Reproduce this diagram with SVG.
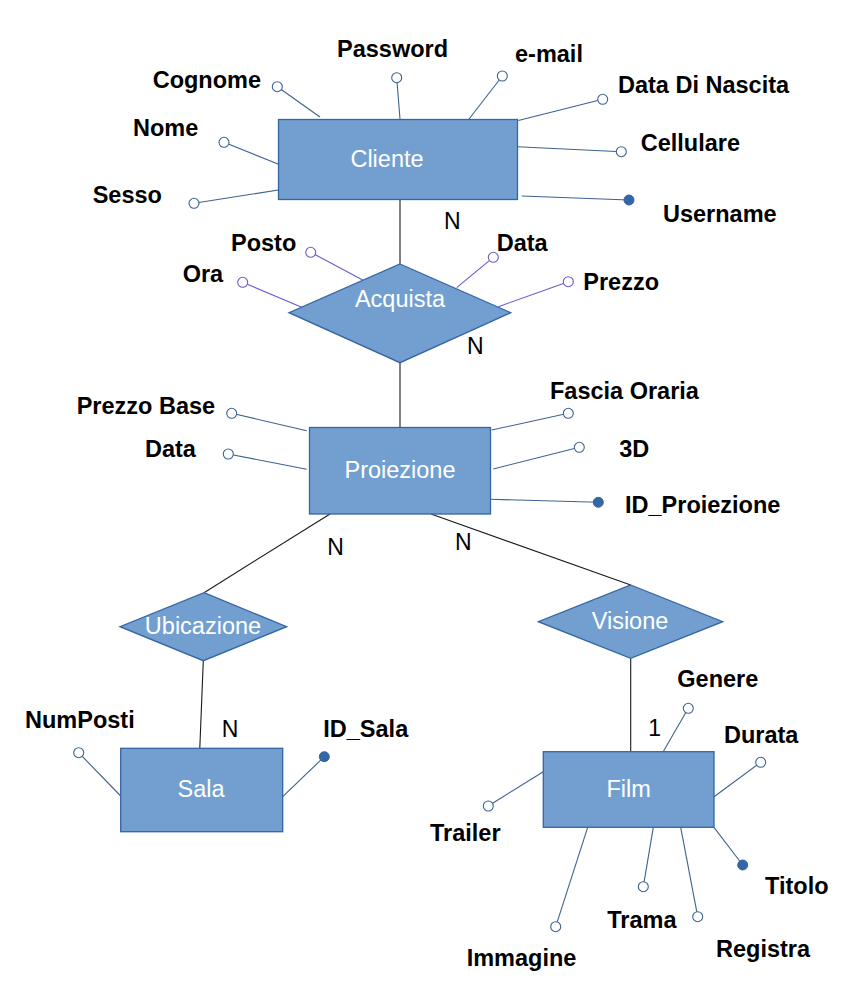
<svg xmlns="http://www.w3.org/2000/svg" width="864" height="1008" viewBox="0 0 864 1008">
<style>
.ent{fill:#729fcf;stroke:#3465a4;stroke-width:1.3}
.nt{font-family:"Liberation Sans",Arial,sans-serif;font-size:23.5px;fill:#ffffff;text-anchor:middle}
.lbl{font-family:"Liberation Sans",Arial,sans-serif;font-size:23.5px;font-weight:bold;fill:#000000}
.card{font-family:"Liberation Sans",Arial,sans-serif;font-size:23px;fill:#000000}
.al{stroke:#3d6290;stroke-width:1.1;fill:none}
.alp{stroke:#6a5acd;stroke-width:1.1;fill:none}
.ao{fill:#ffffff;stroke:#3d6290;stroke-width:1.1}
.aop{fill:#ffffff;stroke:#6a5acd;stroke-width:1.1}
.key{fill:#3465a4;stroke:#3465a4;stroke-width:1}
.conn{stroke:#1a1a1a;stroke-width:1.1;fill:none}
</style>
<rect width="864" height="1008" fill="#ffffff"/>

<g id="connectors">
<line class="conn" x1="400" y1="199.5" x2="400" y2="264"/>
<line class="conn" x1="400" y1="362.7" x2="400" y2="430"/>
<line class="conn" x1="330" y1="514" x2="204" y2="592.7"/>
<line class="conn" x1="431" y1="514" x2="630.7" y2="585"/>
<line class="conn" x1="203.3" y1="660.7" x2="199.8" y2="748.3"/>
<line class="conn" x1="630.7" y1="658.3" x2="630.7" y2="751.7"/>
<text class="card" x="444" y="229">N</text>
<text class="card" x="467" y="354.3">N</text>
<text class="card" x="327.3" y="555">N</text>
<text class="card" x="455" y="550">N</text>
<text class="card" x="221.7" y="736.7">N</text>
<text class="card" x="648.3" y="736">1</text>
</g>

<g id="Cliente">
<line class="al" x1="277.3" y1="86.7" x2="320" y2="117"/>
<line class="al" x1="396.7" y1="77.7" x2="400" y2="119"/>
<line class="al" x1="502.3" y1="76" x2="468.3" y2="120"/>
<line class="al" x1="602.7" y1="99.3" x2="518.3" y2="120.5"/>
<line class="al" x1="224" y1="142.3" x2="283" y2="166"/>
<line class="al" x1="621.3" y1="151.7" x2="517.5" y2="146.7"/>
<line class="al" x1="194" y1="203.3" x2="283" y2="189.3"/>
<line class="al" x1="521.7" y1="196" x2="629" y2="200"/>
<rect class="ent" x="278.5" y="119.5" width="239" height="80"/>
<text class="nt" x="387" y="166.7">Cliente</text>
<circle class="ao" cx="277.3" cy="86.7" r="5"/>
<circle class="ao" cx="396.7" cy="77.7" r="5"/>
<circle class="ao" cx="502.3" cy="76" r="5"/>
<circle class="ao" cx="602.7" cy="99.3" r="5"/>
<circle class="ao" cx="224" cy="142.3" r="5"/>
<circle class="ao" cx="621.3" cy="151.7" r="5"/>
<circle class="ao" cx="194" cy="203.3" r="5"/>
<circle class="key" cx="629" cy="200" r="5"/>
<text class="lbl" x="152.7" y="88">Cognome</text>
<text class="lbl" x="337" y="56.7">Password</text>
<text class="lbl" x="515" y="61.7">e-mail</text>
<text class="lbl" x="618" y="93.3">Data Di Nascita</text>
<text class="lbl" x="133" y="136">Nome</text>
<text class="lbl" x="640.7" y="150.7">Cellulare</text>
<text class="lbl" x="92.7" y="203.3">Sesso</text>
<text class="lbl" x="663" y="221.7">Username</text>
</g>

<g id="Acquista">
<line class="alp" x1="310.7" y1="252.3" x2="362.7" y2="280"/>
<line class="alp" x1="242.7" y1="282.3" x2="301.7" y2="307.3"/>
<line class="alp" x1="493.3" y1="257.3" x2="456.7" y2="287.7"/>
<line class="alp" x1="568.3" y1="281.7" x2="498.3" y2="306.7"/>
<polygon class="ent" points="400,264 510.7,312.7 400,362.7 289,312.7"/>
<text class="nt" x="400" y="307.3">Acquista</text>
<circle class="aop" cx="310.7" cy="252.3" r="5"/>
<circle class="aop" cx="242.7" cy="282.3" r="5"/>
<circle class="aop" cx="493.3" cy="257.3" r="5"/>
<circle class="aop" cx="568.3" cy="281.7" r="5"/>
<text class="lbl" x="231" y="250.7">Posto</text>
<text class="lbl" x="182.7" y="282.3">Ora</text>
<text class="lbl" x="496.7" y="250.7">Data</text>
<text class="lbl" x="583.3" y="290">Prezzo</text>
</g>

<g id="Proiezione">
<line class="al" x1="231.7" y1="413.3" x2="306.7" y2="430.7"/>
<line class="al" x1="228.3" y1="454" x2="306.7" y2="469.3"/>
<line class="al" x1="568.3" y1="413.3" x2="491.7" y2="430"/>
<line class="al" x1="579.3" y1="447.3" x2="493.3" y2="469"/>
<line class="al" x1="490.7" y1="499.3" x2="598.3" y2="502.3"/>
<rect class="ent" x="309.5" y="427.5" width="181" height="86.5"/>
<text class="nt" x="400" y="478.3">Proiezione</text>
<circle class="ao" cx="231.7" cy="413.3" r="5"/>
<circle class="ao" cx="228.3" cy="454" r="5"/>
<circle class="ao" cx="568.3" cy="413.3" r="5"/>
<circle class="ao" cx="579.3" cy="447.3" r="5"/>
<circle class="key" cx="598.3" cy="502.3" r="5"/>
<text class="lbl" x="76.7" y="414.3">Prezzo Base</text>
<text class="lbl" x="145" y="457.3">Data</text>
<text class="lbl" x="550" y="399.3">Fascia Oraria</text>
<text class="lbl" x="619.3" y="456.7">3D</text>
<text class="lbl" x="625" y="512.7">ID_Proiezione</text>
</g>

<g id="Ubicazione">
<polygon class="ent" points="204,592.7 286.7,626.7 203.3,660.7 120,626.7"/>
<text class="nt" x="203" y="634">Ubicazione</text>
</g>

<g id="Visione">
<polygon class="ent" points="630.7,585 722.7,621.7 630.7,658.3 538.3,621.7"/>
<text class="nt" x="630" y="629.3">Visione</text>
</g>

<g id="Sala">
<line class="al" x1="78.7" y1="752.7" x2="120.7" y2="796"/>
<line class="al" x1="282.7" y1="796.7" x2="324.3" y2="756.7"/>
<rect class="ent" x="120.7" y="748.3" width="162" height="83.4"/>
<text class="nt" x="201" y="797.3">Sala</text>
<circle class="ao" cx="78.7" cy="752.7" r="5"/>
<circle class="key" cx="324.3" cy="756.7" r="5"/>
<text class="lbl" x="25" y="728.3">NumPosti</text>
<text class="lbl" x="323.3" y="736.7">ID_Sala</text>
</g>

<g id="Film">
<line class="al" x1="688.3" y1="708.3" x2="660.7" y2="756"/>
<line class="al" x1="760.7" y1="762.3" x2="714" y2="796.7"/>
<line class="al" x1="488.3" y1="806" x2="543.3" y2="771.7"/>
<line class="al" x1="714" y1="827.3" x2="742.7" y2="865"/>
<line class="al" x1="643.3" y1="886.7" x2="653.3" y2="827.3"/>
<line class="al" x1="697.7" y1="916.7" x2="680.7" y2="827.3"/>
<line class="al" x1="555.7" y1="926.7" x2="587.7" y2="827.3"/>
<rect class="ent" x="543.3" y="751.7" width="170.7" height="75.6"/>
<text class="nt" x="628.7" y="797.3">Film</text>
<circle class="ao" cx="688.3" cy="708.3" r="5"/>
<circle class="ao" cx="760.7" cy="762.3" r="5"/>
<circle class="ao" cx="488.3" cy="806" r="5"/>
<circle class="key" cx="742.7" cy="865" r="5"/>
<circle class="ao" cx="643.3" cy="886.7" r="5"/>
<circle class="ao" cx="697.7" cy="916.7" r="5"/>
<circle class="ao" cx="555.7" cy="926.7" r="5"/>
<text class="lbl" x="677.3" y="686.7">Genere</text>
<text class="lbl" x="724" y="742.7">Durata</text>
<text class="lbl" x="430" y="840.7">Trailer</text>
<text class="lbl" x="765" y="894">Titolo</text>
<text class="lbl" x="607.3" y="928.3">Trama</text>
<text class="lbl" x="716" y="957.3">Registra</text>
<text class="lbl" x="466.7" y="966">Immagine</text>
</g>
</svg>
